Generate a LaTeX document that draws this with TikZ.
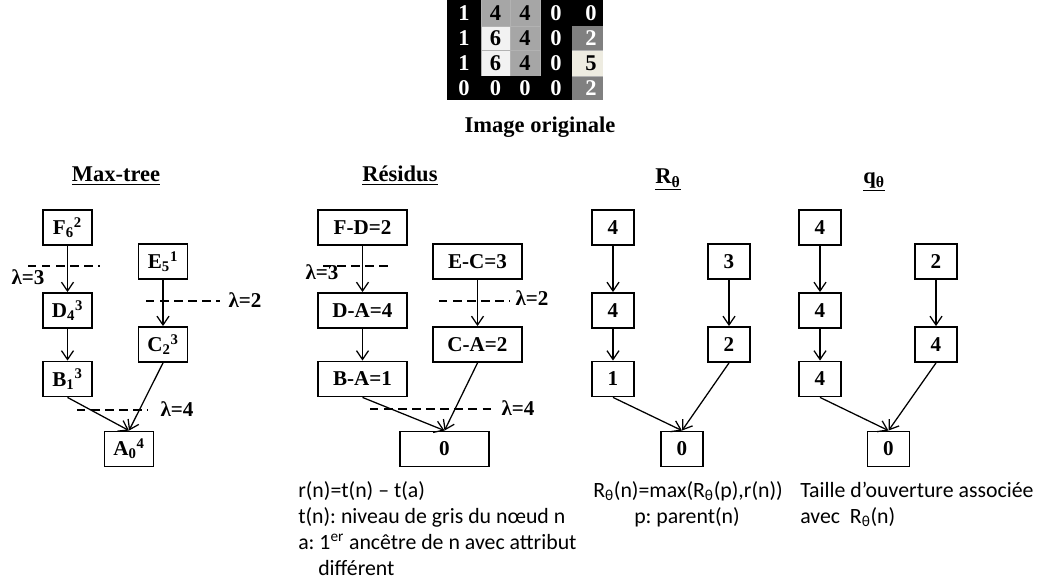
\documentclass[tikz,border=0pt]{standalone}
\usepackage{fontspec}
\setmainfont{Liberation Serif}
\newfontfamily\capfont{Carlito}
\usepackage{tikz}
\usetikzlibrary{arrows.meta}
\definecolor{cellGray}{RGB}{166,166,166}
\definecolor{cellLight}{RGB}{242,242,242}
\definecolor{cellCream}{RGB}{238,236,225}
\definecolor{cellDark}{RGB}{128,128,128}
\frenchspacing

\begin{document}
\begin{tikzpicture}[x=0.025cm, y=-0.025cm,
    box/.style={rectangle, draw=black, line width=1.3pt, minimum width=1.225cm, minimum height=0.875cm, inner sep=0pt, font=\bfseries\fontsize{15}{18}\selectfont},
    widebox/.style={box, minimum width=2.225cm},
    numbox/.style={box, minimum width=1.05cm},
    arrow/.style={-{Straight Barb[length=2.2mm, width=3mm]}, line width=0.9pt},
    cut/.style={dash pattern=on 6pt off 4pt, line width=0.9pt},
    lam/.style={inner sep=0pt, font=\bfseries\fontsize{15}{18}\selectfont},
    title/.style={anchor=base, inner sep=0pt, font=\bfseries\fontsize{16}{19}\selectfont},
    cell/.style={inner sep=0pt, font=\bfseries\fontsize{16}{19}\selectfont},
    caption/.style={anchor=base west, inner sep=0pt, font=\capfont\fontsize{15.5}{18}\selectfont}
]
\useasboundingbox (0,0) rectangle (1038,583);

% Original image
\fill[black] (447,0) rectangle (603,100);
\fill[cellGray] (481,0) rectangle (540,26);
\fill[cellGray] (510,26) rectangle (540,76);
\fill[cellLight] (481,26) rectangle (510,76);
\fill[cellDark] (572,26) rectangle (603,50);
\fill[cellCream] (572,50) rectangle (603,76);
\fill[cellDark] (572,76) rectangle (603,100);
\draw[gray!60, line width=0.3pt] (481,0) -- (481,76) (510,0) -- (510,76) (540,0) -- (540,76)
    (481,26) -- (540,26) (481,50) -- (540,50) (572,50) -- (603,50) (572,76) -- (603,76);
\foreach \r/\y in {1/13, 2/38, 3/63, 4/88} {
  \foreach \c/\x in {1/464, 2/495.5, 3/525, 4/556, 5/591} {
    \node[cell] (g\r\c) at (\x,\y) {};
  }
}
\node[cell, text=white] at (g11) {1};
\node[cell] at (g12) {4};
\node[cell] at (g13) {4};
\node[cell, text=white] at (g14) {0};
\node[cell, text=white] at (g15) {0};
\node[cell, text=white] at (g21) {1};
\node[cell] at (g22) {6};
\node[cell] at (g23) {4};
\node[cell, text=white] at (g24) {0};
\node[cell, text=white] at (g25) {2};
\node[cell, text=white] at (g31) {1};
\node[cell] at (g32) {6};
\node[cell] at (g33) {4};
\node[cell, text=white] at (g34) {0};
\node[cell] at (g35) {5};
\node[cell, text=white] at (g41) {0};
\node[cell, text=white] at (g42) {0};
\node[cell, text=white] at (g43) {0};
\node[cell, text=white] at (g44) {0};
\node[cell, text=white] at (g45) {2};
\node[title] (imgtitle) at (540,133) {Image originale};

% Titles
\node[title] (t1) at (116,182) {\underline{Max-tree}};
\node[title] (t2) at (400,182) {\underline{Résidus}};
\node[title] (t3) at (668,184) {\underline{R\textsubscript{θ}}};
\node[title] (t4) at (874,184) {\underline{q\textsubscript{θ}}};

% Max-tree
\node[box] (F) at (67.5,227.5) {F\textsubscript{6}\textsuperscript{2}};
\node[box] (E) at (163,261.5) {E\textsubscript{5}\textsuperscript{1}};
\node[box] (D) at (67.5,310.5) {D\textsubscript{4}\textsuperscript{3}};
\node[box] (C) at (163,344.5) {C\textsubscript{2}\textsuperscript{3}};
\node[box] (B) at (67.5,379) {B\textsubscript{1}\textsuperscript{3}};
\node[box] (A) at (129,449) {A\textsubscript{0}\textsuperscript{4}};
\draw[cut] (28,266) -- (100,266);
\draw[cut] (146,301) -- (220,301);
\draw[cut] (77,410) -- (148,410);
\draw[arrow] (F) -- (D);
\draw[arrow] (D) -- (B);
\draw[arrow] (E) -- (C);
\draw[arrow] (B.south) -- (A.north);
\draw[arrow] (C.south) -- (A.north);
\node[lam] (l3) at (28,277) {λ=3};
\node[lam] (l2) at (245,300) {λ=2};
\node[lam] (l4) at (177,409) {λ=4};

% Residus
\node[widebox] (rF) at (362.5,227.5) {F-D=2};
\node[widebox] (rE) at (477.5,261.5) {E-C=3};
\node[widebox] (rD) at (362.5,310.5) {D-A=4};
\node[widebox] (rC) at (477.5,344.5) {C-A=2};
\node[widebox] (rB) at (362.5,379) {B-A=1};
\node[widebox] (rA) at (444.5,449) {0};
\draw[cut] (323,266) -- (393,266);
\draw[cut] (439,301) -- (510,301);
\draw[cut] (370,409) -- (492,409);
\draw[arrow] (rF) -- (rD);
\draw[arrow] (rD) -- (rB);
\draw[arrow] (rE) -- (rC);
\draw[arrow] (rB.south) -- (rA.north);
\draw[arrow] (rC.south) -- (rA.north);
\node[lam] (rl3) at (322,272) {λ=3};
\node[lam] (rl2) at (532,298) {λ=2};
\node[lam] (rl4) at (518,408) {λ=4};

% R theta
\node[numbox] (pF) at (613,227.5) {4};
\node[numbox] (pE) at (729,261.5) {3};
\node[numbox] (pD) at (613,310.5) {4};
\node[numbox] (pC) at (729,344.5) {2};
\node[numbox] (pB) at (613,379) {1};
\node[numbox] (pA) at (682,449) {0};
\draw[arrow] (pF) -- (pD);
\draw[arrow] (pD) -- (pB);
\draw[arrow] (pE) -- (pC);
\draw[arrow] (pB.south) -- (pA.north);
\draw[arrow] (pC.south) -- (pA.north);

% q theta
\node[numbox] (qF) at (820,227.5) {4};
\node[numbox] (qE) at (936,261.5) {2};
\node[numbox] (qD) at (820,310.5) {4};
\node[numbox] (qC) at (936,344.5) {4};
\node[numbox] (qB) at (820,379) {4};
\node[numbox] (qA) at (888.5,449) {0};
\draw[arrow] (qF) -- (qD);
\draw[arrow] (qD) -- (qB);
\draw[arrow] (qE) -- (qC);
\draw[arrow] (qB.south) -- (qA.north);
\draw[arrow] (qC.south) -- (qA.north);

% Definitions
\node[caption] (rdef) at (298,497) {r(n)=t(n) – t(a)};
\node[caption] (tdef) at (298,523) {t(n): niveau de gris du nœud n};
\node[caption] (adef) at (298,549) {a: 1\textsuperscript{er} ancêtre de n avec attribut};
\node[caption] (adef2) at (318,575) {différent};
\node[caption] (rtdef) at (593,497) {R\textsubscript{θ}(n)=max(R\textsubscript{θ}(p),r(n))};
\node[caption, anchor=base] (pdef) at (687,523) {p: parent(n)};
\node[caption] (qdef) at (800,497) {Taille d’ouverture associée};
\node[caption] (qdef2) at (800,523) {avec\ \ R\textsubscript{θ}(n)};

\end{tikzpicture}
\end{document}
